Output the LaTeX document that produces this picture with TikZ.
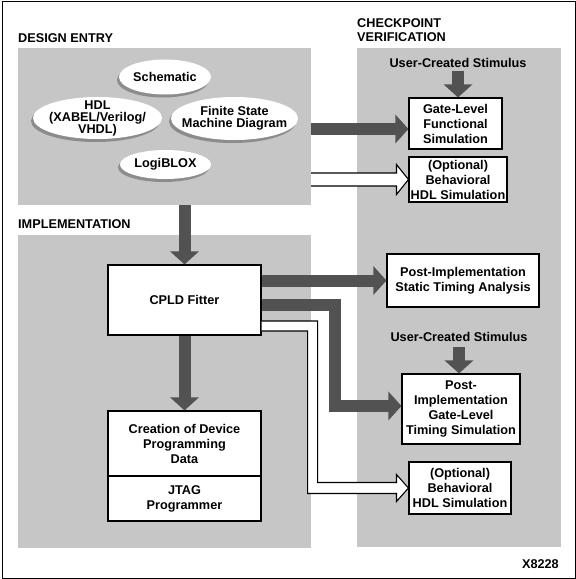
\documentclass[tikz,border=0pt]{standalone}
\usepackage{fontspec}
\setmainfont{Liberation Sans}
\usetikzlibrary{arrows.meta,shapes.geometric,shadows,calc}
\definecolor{panelgray}{RGB}{198,198,198}
\definecolor{arrowgray}{RGB}{82,82,82}
\definecolor{shadowgray}{RGB}{140,140,140}
\newcommand{\myovalfont}{\bfseries\fontsize{12.7}{12}\selectfont}
\newcommand{\myboxfont}{\bfseries\fontsize{12.7}{15}\selectfont}
\begin{document}
\begin{tikzpicture}[x=1pt,y=-1pt,
  every node/.style={font=\myboxfont, inner sep=0pt},
  panel/.style={fill=panelgray, draw=none},
  box/.style={draw, fill=white, line width=1.1pt, align=center},
  oval/.style={ellipse, fill=white,
    drop shadow={shadow xshift=-2pt, shadow yshift=-3pt, fill=shadowgray, opacity=1}},
  ovaltext/.style={align=center, font=\myovalfont},
  darkarrow/.style={draw=arrowgray, line width=12pt, -{Triangle[length=13pt,width=28pt]}},
  whitearrow/.style={draw=black, fill=white, line width=1.1pt, line join=miter}]
\useasboundingbox (0,0) rectangle (576,579);
\draw[line width=1pt] (2,1) rectangle (575,578);

% panels
\node[panel, minimum width=293pt, minimum height=157pt] (de) at (164.5,126.5) {};
\node[panel, minimum width=293pt, minimum height=313pt] (im) at (164.5,391.5) {};
\node[panel, minimum width=204pt, minimum height=499pt] (cv) at (459,297.5) {};

% section labels
\node[anchor=base west] (lde) at (18,42) {DESIGN ENTRY};
\node[anchor=base west] (lim) at (18,228.5) {IMPLEMENTATION};
\node[anchor=north west, align=left, font=\bfseries\fontsize{12.7}{14}\selectfont] (lcv) at (357,18) {CHECKPOINT\\VERIFICATION};
\node[anchor=base east] (fig) at (559,568.5) {X8228};

% design entry ovals
\node[oval, minimum width=92pt, minimum height=35pt] (sch) at (165,77) {};
\node[ovaltext] (scht) at (sch.center) {Schematic};
\node[oval, minimum width=129pt, minimum height=42pt] (hdl) at (97.5,118) {};
\node[ovaltext] (hdlt) at (hdl.center) {HDL\\(XABEL/Verilog/\\VHDL)};
\node[oval, minimum width=127pt, minimum height=43pt] (fsm) at (234.5,118.5) {};
\node[ovaltext] (fsmt) at (fsm.center) {Finite State\\Machine Diagram};
\node[oval, minimum width=91pt, minimum height=29pt] (lbx) at (165.5,164.5) {};
\node[ovaltext] (lbxt) at (lbx.center) {LogiBLOX};

% boxes
\node[box, minimum width=93pt, minimum height=51pt] (gate) at (455.5,123.5) {Gate-Level\\Functional\\Simulation};
\node[box, minimum width=98pt, minimum height=45pt] (opt1) at (458,179.5) {(Optional)\\Behavioral\\HDL Simulation};
\node[box, minimum width=153pt, minimum height=70pt] (cpld) at (184.5,300) {CPLD Fitter};
\node[box, minimum width=152pt, minimum height=53pt] (sta) at (463,280.5) {Post-Implementation\\Static Timing Analysis};
\node[box, minimum width=118pt, minimum height=70pt] (post) at (461,409) {Post-\\Implementation\\Gate-Level\\Timing Simulation};
\node[box, minimum width=102pt, minimum height=52pt] (opt2) at (460,488) {(Optional)\\Behavioral\\HDL Simulation};
\node[box, minimum width=153pt, minimum height=65pt] (cre) at (184.5,443.5) {Creation of Device\\Programming\\Data};
\node[box, minimum width=153pt, minimum height=45pt] (jtag) at (184.5,498.5) {JTAG\\Programmer};

% stimulus labels
\node (stim1) at (458,63) {User-Created Stimulus};
\node (stim2) at (459,337) {User-Created Stimulus};

% dark arrows
\coordinate (g1) at ([yshift=-5.5pt]gate.west);
\coordinate (p1) at ([yshift=3pt]post.west);
\coordinate (c1) at ([yshift=-5pt]cpld.east);
\draw[darkarrow] ([yshift=-3pt]stim1.south) -- (stim1.south |- gate.north);
\draw[darkarrow] ([yshift=-5pt]stim2.south) -- (stim2.south |- post.north);
\draw[darkarrow] (de.east |- g1) -- (g1);
\draw[darkarrow] (de.south -| cpld.north) -- (cpld.north);
\draw[darkarrow] (cpld.south) -- (cre.north);
\draw[darkarrow] (cpld.east |- sta.west) -- (sta.west);
\draw[darkarrow] (c1) -- ++(73,0) |- (p1);

% white arrows
\draw[whitearrow] let \p1=(opt1.west), \p2=(de.east) in
  (\x2,\y1+6.5pt) -- (\x1-12pt,\y1+6.5pt) -- (\x1-12pt,\y1+15pt) -- (\p1)
  -- (\x1-12pt,\y1-15pt) -- (\x1-12pt,\y1-6.5pt) -- (\x2,\y1-6.5pt);
\draw[whitearrow] let \p1=(cpld.east), \p2=(opt2.west) in
  (\x1,\y1-21pt) -- (\x1+56pt,\y1-21pt) -- (\x1+56pt,\y2+5.5pt)
  -- (\x2-12pt,\y2+5.5pt) -- (\x2-12pt,\y2+13.5pt) -- (\p2)
  -- (\x2-12pt,\y2-13.5pt) -- (\x2-12pt,\y2-5.5pt)
  -- (\x1+46pt,\y2-5.5pt) -- (\x1+46pt,\y1-31pt) -- (\x1,\y1-31pt);
\end{tikzpicture}
\end{document}
